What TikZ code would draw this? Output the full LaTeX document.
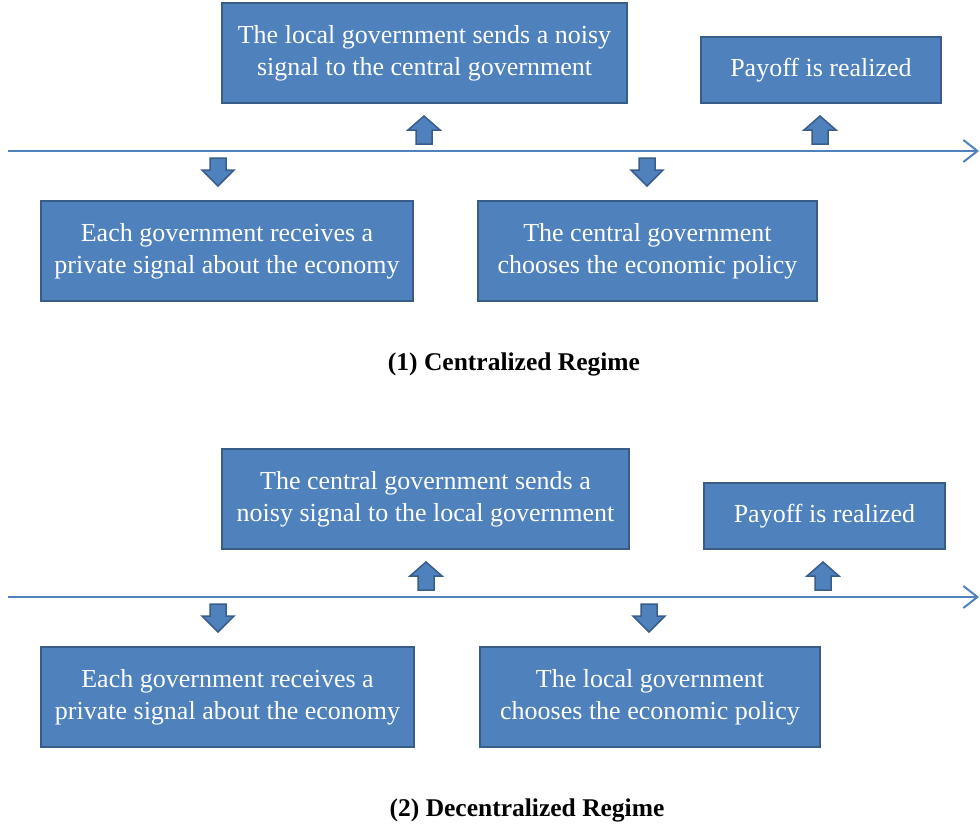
\documentclass[tikz,border=0pt]{standalone}
\usepackage{fontspec}
\setmainfont{Liberation Serif}
\usetikzlibrary{arrows.meta}
\definecolor{boxfill}{HTML}{4F81BD}
\definecolor{boxline}{HTML}{385D8A}
\begin{document}
\begin{tikzpicture}[x=1bp,y=-1bp,
  box/.style={draw=boxline, line width=2bp, fill=boxfill, text=white, align=center,
    inner sep=0pt, font=\fontsize{26bp}{32bp}\selectfont, anchor=north west},
  axisline/.style={draw=boxfill, line width=2bp, -{Straight Barb[length=14bp,width=22bp,line width=2bp]}},
  title/.style={font=\fontsize{25.5bp}{28bp}\selectfont\bfseries},
  blockarrow/.style={fill=boxfill, draw=boxline, line width=1.5bp, line join=miter},
  uparrow/.pic={\path[blockarrow] (-8,14) -- (-8,0) -- (-16,0) -- (0,-14) -- (16,0) -- (8,0) -- (8,14) -- cycle;},
  downarrow/.pic={\path[blockarrow] (-8,-14) -- (-8,-2) -- (-16,-2) -- (0,14) -- (16,-2) -- (8,-2) -- (8,-14) -- cycle;}
]
\useasboundingbox (0,0) rectangle (980,830);
% ---------- (1) Centralized ----------
\node[box, minimum width=405bp, minimum height=100bp] (a1) at (221,2) {The local government sends a noisy\\signal to the central government};
\node[box, minimum width=240bp, minimum height=66bp] (b1) at (700,36) {Payoff is realized};
\node[box, minimum width=372bp, minimum height=100bp] (c1) at (40,200) {Each government receives a\\private signal about the economy};
\node[box, minimum width=339bp, minimum height=100bp] (d1) at (477,200) {The central government\\chooses the economic policy};
\coordinate (s1) at (8,151);
\coordinate (e1) at (979,151);
\draw[axisline] (s1) -- (e1);
\pic at (424,130) {uparrow};
\pic at (820,130) {uparrow};
\pic at (218,172) {downarrow};
\pic at (647,172) {downarrow};
\node[title] (t1) at (514,364) {(1) Centralized Regime};
% ---------- (2) Decentralized ----------
\node[box, minimum width=407bp, minimum height=100bp] (a2) at (221,448) {The central government sends a\\noisy signal to the local government};
\node[box, minimum width=241bp, minimum height=66bp] (b2) at (703,482) {Payoff is realized};
\node[box, minimum width=373bp, minimum height=100bp] (c2) at (40,646) {Each government receives a\\private signal about the economy};
\node[box, minimum width=340bp, minimum height=100bp] (d2) at (479,646) {The local government\\chooses the economic policy};
\coordinate (s2) at (8,597);
\coordinate (e2) at (979,597);
\draw[axisline] (s2) -- (e2);
\pic at (426,576) {uparrow};
\pic at (823,576) {uparrow};
\pic at (218,618) {downarrow};
\pic at (649,618) {downarrow};
\node[title] (t2) at (527,810) {(2) Decentralized Regime};
\end{tikzpicture}
\end{document}
